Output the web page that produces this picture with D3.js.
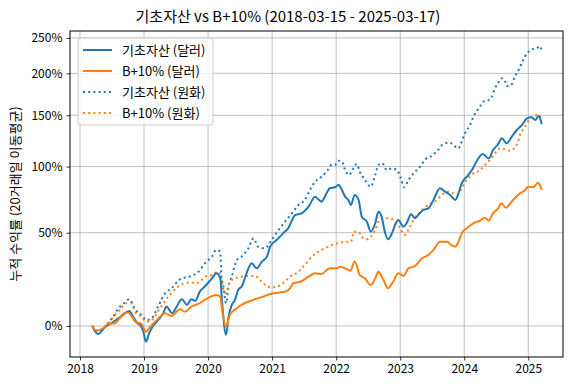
<!DOCTYPE html>
<html><head><meta charset="utf-8">
<script src="https://cdn.jsdelivr.net/npm/d3@7"></script>
<style>
body{margin:0;background:#fff;}
text{font-family:"Noto Sans CJK KR","Noto Sans",sans-serif;fill:#000;}
</style></head><body>
<svg id="c" width="576" height="390"></svg>
<script>
const title = "기초자산 vs B+10% (2018-03-15 - 2025-03-17)";
const yLabel = "누적 수익률 (20거래일 이동평균)";
const seriesNames = ["기초자산 (달러)", "B+10% (달러)", "기초자산 (원화)", "B+10% (원화)"];
const xTicks = [2018, 2019, 2020, 2021, 2022, 2023, 2024, 2025];
const yTicks = [0, 50, 100, 150, 200, 250];

// 기초자산 (달러)
const tA = [2018.19,2018.28,2018.39,2018.50,2018.60,2018.70,2018.77,2018.83,2018.89,2018.94,2018.99,2019.03,2019.08,2019.14,2019.22,2019.30,2019.35,2019.44,2019.51,2019.59,2019.67,2019.74,2019.80,2019.87,2019.95,2020.06,2020.13,2020.19,2020.22,2020.28,2020.32,2020.37,2020.42,2020.47,2020.53,2020.60,2020.68,2020.76,2020.84,2020.92,2020.97,2021.07,2021.17,2021.25,2021.36,2021.46,2021.57,2021.67,2021.77,2021.85,2021.90,2021.98,2022.04,2022.09,2022.14,2022.19,2022.23,2022.29,2022.35,2022.40,2022.48,2022.54,2022.61,2022.66,2022.71,2022.76,2022.81,2022.87,2022.92,2022.97,2023.05,2023.10,2023.17,2023.23,2023.28,2023.36,2023.44,2023.52,2023.62,2023.70,2023.78,2023.86,2023.91,2023.96,2024.04,2024.12,2024.19,2024.29,2024.38,2024.45,2024.52,2024.59,2024.66,2024.74,2024.82,2024.90,2024.98,2025.05,2025.11,2025.16,2025.19,2025.21];
const vA = [0,-3.4,-0.6,1.4,3.4,5.7,6.7,4.1,1.4,0.4,-2.5,-6.6,-3.1,0,2.6,5.7,8.8,5.7,8.8,12.3,9.6,12.3,11.6,16.1,18.7,23.0,25.7,23.0,10.4,-3.8,4.1,9.6,12.0,17.0,19.0,25.7,31.3,28.5,32.3,35.2,41.2,45.3,49.6,52.9,62.0,63.2,68.0,75.5,71.7,78.1,82.0,82.8,84.6,80.6,75.5,73.0,69.2,76.8,73.0,60.8,57.4,50.7,56.3,64.4,60.8,50.7,45.8,49.6,55.1,58.6,54.0,56.3,62.5,59.7,62.0,65.6,66.8,73.0,82.0,79.3,76.8,73.0,78.1,86.0,91.4,97.0,104.3,111.3,107.3,115.0,119.7,126.2,121.3,127.7,134.5,139.6,146.7,147.8,144.9,149.2,145.6,140.4];

// B+10% (달러)
const tB = [2018.19,2018.26,2018.36,2018.44,2018.55,2018.62,2018.75,2018.81,2018.86,2018.96,2019.03,2019.09,2019.20,2019.33,2019.43,2019.56,2019.64,2019.74,2019.87,2019.95,2020.13,2020.19,2020.22,2020.28,2020.34,2020.45,2020.52,2020.63,2020.73,2020.86,2020.97,2021.10,2021.20,2021.28,2021.33,2021.44,2021.57,2021.67,2021.77,2021.90,2022.01,2022.06,2022.14,2022.22,2022.29,2022.37,2022.45,2022.54,2022.61,2022.66,2022.74,2022.81,2022.89,2022.97,2023.05,2023.13,2023.23,2023.34,2023.44,2023.52,2023.62,2023.73,2023.80,2023.86,2023.91,2023.96,2024.04,2024.14,2024.25,2024.32,2024.38,2024.45,2024.53,2024.58,2024.65,2024.74,2024.84,2024.95,2025.00,2025.08,2025.15,2025.18,2025.21];
const vB = [0,-2.0,-1.0,0.9,1.2,3.4,6.0,4.1,1.9,0.9,-2.5,-0.6,2.6,5.7,4.4,7.5,6.4,8.8,10.4,12.0,14.4,13.6,7.2,-0.3,4.9,8.0,9.6,11.1,12.3,13.6,14.9,15.6,16.1,17.8,20.4,21.2,23.9,25.7,25.4,28.5,28.5,29.4,28.5,27.2,32.3,24.8,23.0,19.5,23.0,26.6,22.1,17.8,21.2,25.7,24.3,28.5,29.8,34.2,36.2,39.2,44.3,44.3,42.2,41.2,44.3,49.6,52.9,56.3,58.1,60.1,58.1,63.2,66.8,70.5,67.3,71.7,76.8,80.6,83.3,82.8,86.5,84.6,80.6];

// 기초자산 (원화)
const tC = [2018.19,2018.28,2018.39,2018.50,2018.60,2018.70,2018.77,2018.86,2018.96,2019.04,2019.12,2019.22,2019.33,2019.43,2019.56,2019.74,2019.85,2019.95,2020.06,2020.13,2020.19,2020.21,2020.24,2020.28,2020.32,2020.37,2020.45,2020.52,2020.63,2020.71,2020.78,2020.89,2020.99,2021.10,2021.20,2021.31,2021.41,2021.51,2021.59,2021.67,2021.77,2021.85,2021.93,2021.98,2022.03,2022.09,2022.14,2022.20,2022.27,2022.32,2022.37,2022.45,2022.54,2022.61,2022.66,2022.72,2022.79,2022.87,2022.95,2023.01,2023.06,2023.13,2023.20,2023.31,2023.39,2023.49,2023.60,2023.67,2023.75,2023.80,2023.86,2023.91,2023.96,2024.01,2024.09,2024.14,2024.19,2024.25,2024.32,2024.38,2024.43,2024.48,2024.53,2024.59,2024.64,2024.66,2024.73,2024.79,2024.86,2024.92,2024.98,2025.05,2025.13,2025.18,2025.21];
const vC = [0,-2.5,-0.4,3.4,8.0,10.7,12.3,7.5,4.9,2.6,3.4,8.8,15.3,17.8,22.5,24.3,26.6,31.3,35.2,39.2,38.1,23.9,18.6,10.4,18.6,23.9,33.2,35.2,40.2,46.4,41.2,40.2,45.3,51.8,57.4,63.2,69.2,73.0,80.6,87.3,91.4,95.6,101.4,101.4,105.2,104.3,97.0,92.8,98.5,102.3,95.6,88.7,83.3,92.8,101.4,102.9,97.0,98.5,97.0,90.1,82.8,88.7,93.6,99.9,106.4,109.4,115.6,120.6,121.9,121.3,118.1,116.5,122.9,131.1,139.6,147.8,153.9,160.3,166.3,167.1,171.0,181.1,188.0,193.6,189.3,183.9,185.1,195.6,206.6,217.9,227.3,233.0,234.5,237.8,231.0];

// B+10% (원화)
const tD = [2018.19,2018.28,2018.39,2018.50,2018.62,2018.73,2018.80,2018.86,2018.96,2019.04,2019.12,2019.25,2019.38,2019.53,2019.69,2019.85,2019.95,2020.06,2020.16,2020.21,2020.24,2020.28,2020.34,2020.42,2020.52,2020.63,2020.73,2020.84,2020.94,2021.05,2021.17,2021.28,2021.41,2021.51,2021.62,2021.72,2021.83,2021.93,2022.03,2022.14,2022.23,2022.28,2022.35,2022.40,2022.48,2022.54,2022.61,2022.68,2022.76,2022.84,2022.92,2023.00,2023.07,2023.15,2023.26,2023.34,2023.44,2023.54,2023.65,2023.73,2023.83,2023.91,2023.96,2024.04,2024.14,2024.25,2024.32,2024.40,2024.48,2024.56,2024.64,2024.71,2024.78,2024.83,2024.87,2024.95,2025.03,2025.08,2025.14,2025.18,2025.21];
const vD = [0,-2.1,-0.4,3.4,7.2,10.4,10.4,6.4,4.1,1.9,2.6,8.0,13.6,18.6,20.7,20.7,23.9,24.8,26.6,22.1,17.0,15.3,21.2,23.0,23.9,24.3,24.3,21.2,18.6,18.3,20.4,23.9,26.6,30.4,35.2,38.1,40.2,42.2,43.3,44.3,44.3,50.7,50.7,47.4,45.8,47.4,51.8,58.6,59.7,59.7,57.4,52.9,48.5,54.0,62.0,65.6,69.2,71.7,76.8,79.3,78.1,77.5,82.0,88.7,94.2,97.0,101.4,105.8,111.9,116.5,115.6,114.3,116.5,121.3,129.4,137.9,146.7,148.4,150.3,149.2,144.9];

const colors = ["#1f77b4", "#ff7f0e", "#1f77b4", "#ff7f0e"];
const dashes = [null, null, "2,3.2", "2,3.2"];

const svg = d3.select("#c");
const L = 70, R = 563, T = 31, B = 357;

const x = d3.scaleLinear().domain([2017.844, 2025.542]).range([L, R]);
const y = d3.scaleLog().domain([0.8737, 3.607]).range([B, T]);

// grid
const g = svg.append("g");
g.selectAll("line.vg").data(xTicks).join("line")
  .attr("x1", d => x(d)).attr("x2", d => x(d)).attr("y1", T).attr("y2", B)
  .attr("stroke", "#b0b0b0").attr("stroke-width", 0.8);
g.selectAll("line.hg").data(yTicks).join("line")
  .attr("x1", L).attr("x2", R).attr("y1", d => y(1 + d / 100)).attr("y2", d => y(1 + d / 100))
  .attr("stroke", "#b0b0b0").attr("stroke-width", 0.8);

// lines
const series = [[tA, vA], [tB, vB], [tC, vC], [tD, vD]];
const line = d3.line().x(d => x(d[0])).y(d => y(1 + d[1] / 100)).curve(d3.curveMonotoneX);
const clip = svg.append("clipPath").attr("id", "clp").append("rect")
  .attr("x", L).attr("y", T).attr("width", R - L).attr("height", B - T);
[2, 3, 0, 1].forEach(i => {
  const [ts, vs] = series[i];
  const pts = ts.map((t, k) => [t, vs[k]]);
  svg.append("path").datum(pts).attr("d", line)
    .attr("fill", "none").attr("stroke", colors[i]).attr("stroke-width", 2)
    .attr("stroke-dasharray", dashes[i]).attr("clip-path", "url(#clp)");
});

// axes
const xAxis = d3.axisBottom(x).tickValues(xTicks).tickFormat(d3.format("d")).tickSize(3.5).tickPadding(4);
const yAxis = d3.axisLeft(y).tickValues(yTicks.map(d => 1 + d / 100))
  .tickFormat(d => Math.round((d - 1) * 100) + "%").tickSize(3.5).tickPadding(4);
const gx = svg.append("g").attr("transform", `translate(0,${B})`).call(xAxis);
const gy = svg.append("g").attr("transform", `translate(${L},0)`).call(yAxis);
[gx, gy].forEach(a => {
  a.select(".domain").remove();
  a.selectAll("line").attr("stroke", "#000").attr("stroke-width", 0.8);
  a.selectAll("text").attr("font-size", 12).attr("font-family", '"Noto Sans CJK KR",sans-serif').attr("fill", "#000");
});
svg.append("rect").attr("x", L).attr("y", T).attr("width", R - L).attr("height", B - T)
  .attr("fill", "none").attr("stroke", "#000").attr("stroke-width", 1);

// title
svg.append("text").attr("x", 288).attr("y", 22).attr("text-anchor", "middle")
  .attr("font-size", 15).text(title);
// y label
svg.append("text").attr("transform", `translate(20,${(T + B) / 2}) rotate(-90)`)
  .attr("text-anchor", "middle").attr("font-size", 13).text(yLabel);

// legend
const lg = svg.append("g");
lg.append("rect").attr("x", 78).attr("y", 38).attr("width", 135).attr("height", 87).attr("rx", 3)
  .attr("fill", "#fff").attr("fill-opacity", 0.8).attr("stroke", "#cccccc").attr("stroke-width", 1);
seriesNames.forEach((n, i) => {
  const yy = 50 + i * 21;
  lg.append("line").attr("x1", 83).attr("x2", 112).attr("y1", yy).attr("y2", yy)
    .attr("stroke", colors[i]).attr("stroke-width", 2).attr("stroke-dasharray", dashes[i]);
  lg.append("text").attr("x", 122).attr("y", yy + 4.5).attr("font-size", 13).text(n);
});
</script></body></html>
